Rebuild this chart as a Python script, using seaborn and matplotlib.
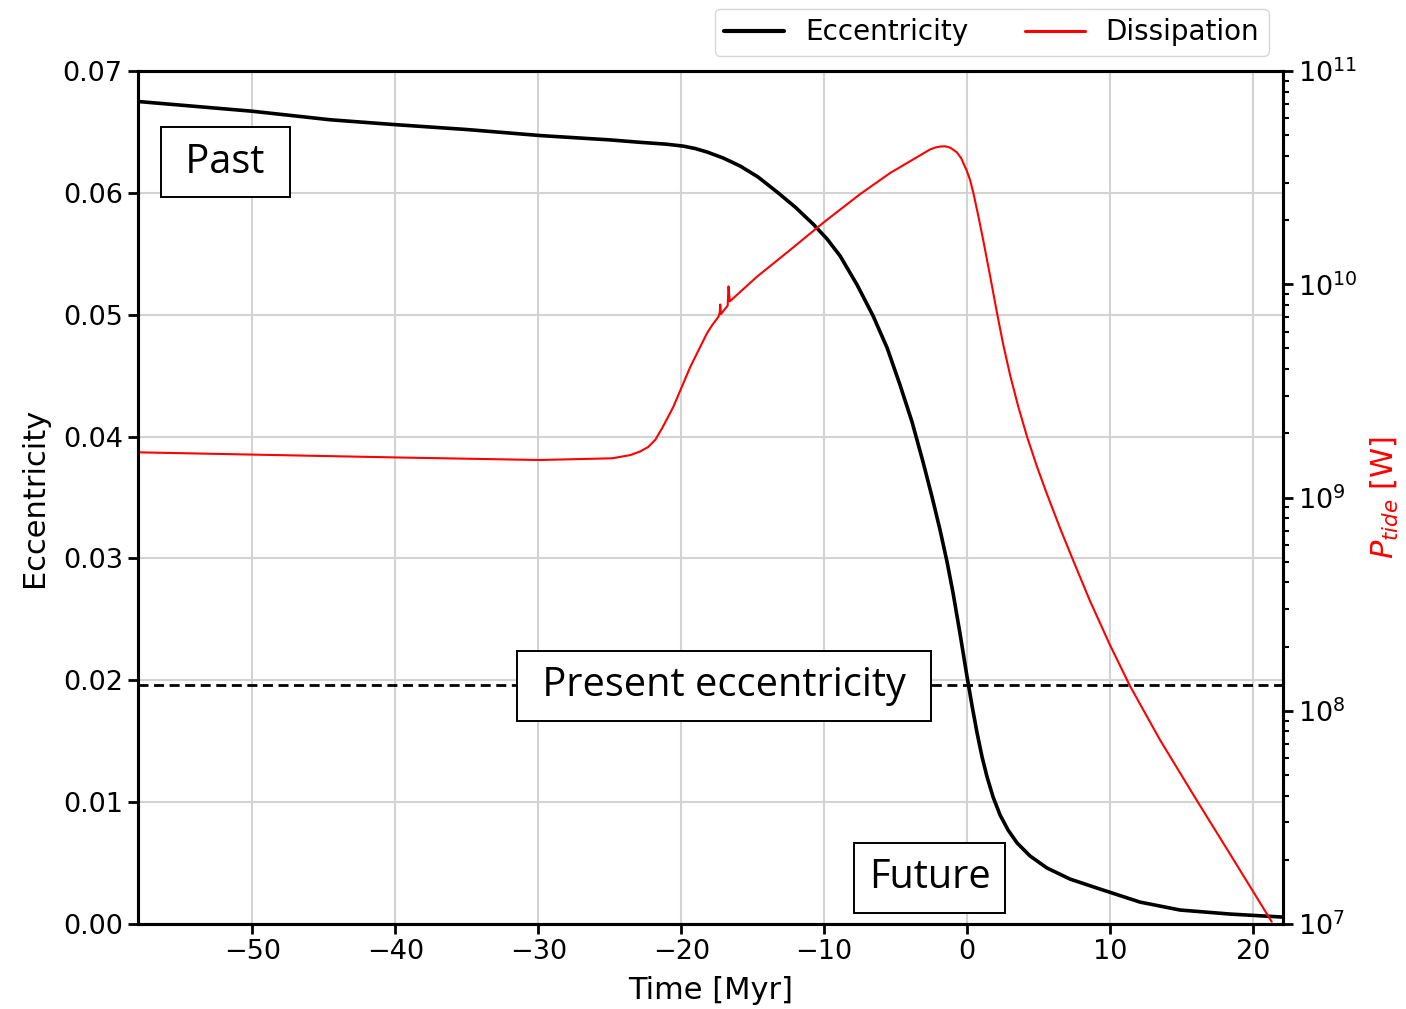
import numpy as np
import pandas as pd
import seaborn as sns
import matplotlib.pyplot as plt

# eccentricity history
ecc_time = [-58.0, -50.0, -44.55, -40.0, -35.0, -29.81, -25.0, -22.87, -21.07, -19.86, -19.02,
            -18.18, -17.06, -15.87, -14.62, -13.29, -12.03, -10.77, -9.79, -8.88, -7.69, -6.57,
            -5.59, -4.69, -3.85, -3.08, -2.45, -1.89, -1.40, -0.98, -0.49, 0.0, 0.35, 0.70,
            1.05, 1.40, 1.82, 2.31, 2.87, 3.50, 4.41, 5.59, 7.20, 9.30, 12.10, 14.90, 18.39, 22.1]
ecc_value = [0.0675, 0.0667, 0.0660, 0.0656, 0.0652, 0.0647, 0.06435, 0.06415, 0.0640, 0.06384,
             0.06364, 0.06335, 0.06286, 0.06220, 0.06130, 0.06007, 0.05884, 0.05744, 0.05621,
             0.05482, 0.05244, 0.04989, 0.04727, 0.04423, 0.04120, 0.03791, 0.03504, 0.03233,
             0.02971, 0.02716, 0.02380, 0.02027, 0.01789, 0.01567, 0.01370, 0.01206, 0.01042,
             0.00894, 0.00771, 0.00665, 0.00558, 0.00460, 0.00369, 0.00287, 0.0018, 0.00115,
             0.00082, 0.00057]

# tidal dissipation, log10 of power in W
diss_time = [-58.0, -39.93, -29.94, -24.83, -23.57, -22.87, -22.31, -21.82, -21.33, -20.56,
             -19.37, -18.20, -17.83, -17.39, -17.3, -17.27, -17.22, -16.75, -16.69, -16.6,
             -14.71, -12.38, -10.0, -7.48, -5.38, -3.08, -2.59, -2.24, -1.89, -1.54, -1.19,
             -0.72, -0.42, -0.02, 0.21, 0.44, 0.77, 1.14, 1.61, 2.08, 2.52, 3.01, 3.57, 4.20,
             4.90, 5.59, 6.50, 7.41, 8.60, 10.0, 11.40, 13.50, 16.06, 18.74, 21.31]
diss_log = [9.212, 9.188, 9.176, 9.184, 9.199, 9.216, 9.237, 9.270, 9.326, 9.424,
            9.612, 9.770, 9.809, 9.848, 9.87, 9.905, 9.86, 9.90, 9.99, 9.92,
            10.035, 10.161, 10.292, 10.423, 10.522, 10.613, 10.632, 10.641, 10.646, 10.647,
            10.641, 10.619, 10.592, 10.532, 10.489, 10.428, 10.325, 10.203, 10.039, 9.870,
            9.720, 9.574, 9.429, 9.284, 9.143, 9.016, 8.857, 8.707, 8.515, 8.308, 8.116,
            7.863, 7.581, 7.291, 7.011]

present_ecc = 0.0196

ecc_df = pd.DataFrame({"time": ecc_time, "ecc": ecc_value})
diss_df = pd.DataFrame({"time": diss_time, "power": 10 ** np.array(diss_log)})

sns.set_style("ticks")
plt.rcParams["font.family"] = ["DejaVu Sans"]
plt.rcParams.update({"text.color": "black", "axes.labelcolor": "black",
                     "xtick.color": "black", "ytick.color": "black"})

fig = plt.figure(figsize=(14.06, 10.09), dpi=100)
ax = fig.add_axes([0.0982, 0.0842, 0.8143, 0.8454])
ax2 = ax.twinx()

sns.lineplot(data=ecc_df, x="time", y="ecc", ax=ax, color="black", linewidth=2.6,
             label="Eccentricity", legend=False)
ax.axhline(present_ecc, color="black", linestyle="--", linewidth=2.0, dashes=(3.6, 2))
sns.lineplot(data=diss_df, x="time", y="power", ax=ax2, color="red", linewidth=1.5,
             label="Dissipation", legend=False)

ax.set_xlim(-58.0, 22.1)
ax.set_ylim(0, 0.07)
ax.set_yticks(np.arange(0, 0.071, 0.01))
ax.set_xticks(np.arange(-50, 21, 10))
ax2.set_yscale("log")
ax2.set_ylim(1e7, 1e11)

ax.grid(True, color="#d3d3d3", linewidth=1.5)
ax.set_axisbelow(True)

for a in (ax, ax2):
    for s in a.spines.values():
        s.set_linewidth(2.2)
        s.set_color("black")
    a.tick_params(axis="both", which="major", labelsize=19.5, width=2.0, length=7.5)
    a.tick_params(axis="y", which="minor", width=1.5, length=4.5)

ax.set_xlabel("Time [Myr]", fontsize=22, labelpad=8)
ax.set_ylabel("Eccentricity", fontsize=22, labelpad=10)
ax2.set_ylabel("$P_{tide}$ [W]", fontsize=22, color="red", labelpad=8)

box = dict(boxstyle="square,pad=0.37", facecolor="white", edgecolor="black", linewidth=1.4)
ax.text(-51.9, 0.0625, " Past ", fontsize=28.6, family="Open Sans", ha="center", va="center", bbox=box)
ax.text(-17.0, 0.01957, " Present eccentricity ", fontsize=28.6, family="Open Sans",
        ha="center", va="center", bbox=box)
ax.text(-2.62, 0.00377, "Future", fontsize=28.6, family="Open Sans", ha="center", va="center", bbox=box)

h1, l1 = ax.get_legend_handles_labels()
h2, l2 = ax2.get_legend_handles_labels()
leg = ax.legend(h1 + h2, l1 + l2, loc="lower right", bbox_to_anchor=(0.9878, 1.0176), ncol=2,
                fontsize=20, frameon=True, borderaxespad=0, handlelength=2.15, handletextpad=0.75,
                columnspacing=2.05, borderpad=0.35)
leg.get_lines()[0].set_linewidth(3.0)
leg.get_lines()[1].set_linewidth(2.2)

fig.savefig("out.png", dpi=100)
